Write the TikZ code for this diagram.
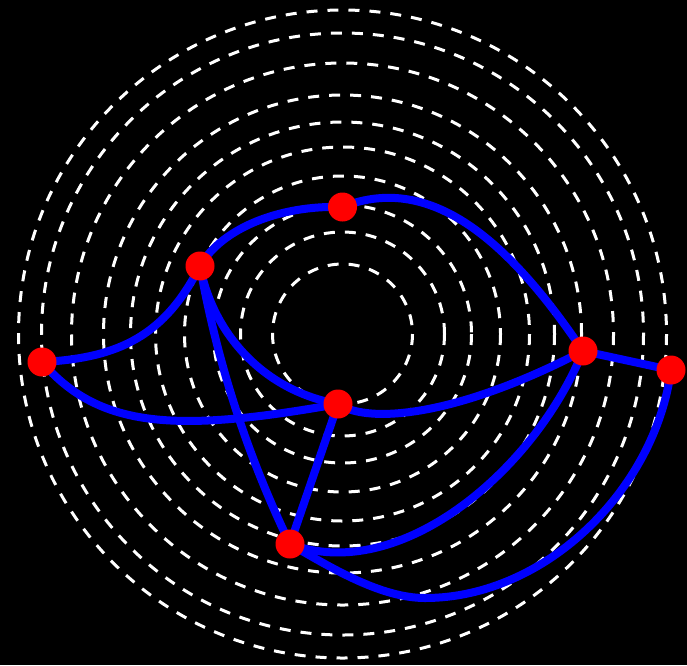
\documentclass[tikz,border=0pt]{standalone}
\pgfdeclarelayer{back}
\pgfsetlayers{back,main}
\begin{document}
\begin{tikzpicture}[x=1pt,y=-1pt,
  ring/.style={draw=white,line width=3pt,dash pattern=on 11pt off 10pt},
  edge/.style={draw=blue,line width=8pt},
  vert/.style={circle,fill=red,draw=none,minimum size=29pt,inner sep=0pt}]
\node[vert] (A) at (342.5,207) {};
\node[vert] (B) at (200,266) {};
\node[vert] (C) at (42,362) {};
\node[vert] (D) at (338,404) {};
\node[vert] (E) at (583,351) {};
\node[vert] (F) at (671,370) {};
\node[vert] (G) at (290,544) {};
\coordinate (O) at (342.5,334);
\coordinate (M) at (425,598);
\begin{pgfonlayer}{back}
\fill[black] (0,0) rectangle (687,665);
\foreach \r in {70,102,129,158,187,212,239,271,301,324}
  \draw[ring] (O) circle[radius=\r];
\path[edge] (B.center) .. controls (222,228) and (280,205) .. (A.center);
\path[edge] (A.center) .. controls (435,170) and (515,250) .. (E.center);
\path[edge] (C.center) .. controls (120,358) and (165,335) .. (B.center);
\path[edge] (B.center) .. controls (212,330) and (260,390) .. (D.center);
\path[edge] (B.center) .. controls (217.3,362.8) and (247.3,455.4) .. (G.center);
\path[edge] (C.center) .. controls (100,430) and (180,432) .. (D.center);
\path[edge] (D.center) .. controls (370,425) and (460,415) .. (E.center);
\path[edge] (D.center) -- (G.center);
\path[edge] (G.center) .. controls (400,585) and (535,470) .. (E.center);
\path[edge] (E.center) -- (F.center);
\path[edge] (G.center) .. controls (329,566.5) and (380,598) .. (M) .. controls (545,598) and (655,490) .. (F.center);
\end{pgfonlayer}
\useasboundingbox (0,0) rectangle (687,665);
\end{tikzpicture}
\end{document}
